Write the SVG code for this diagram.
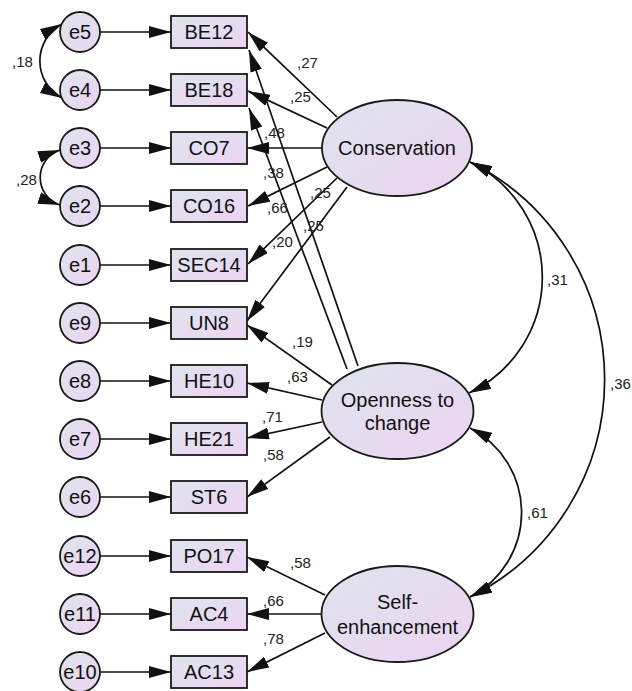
<svg xmlns="http://www.w3.org/2000/svg" width="632" height="691" viewBox="0 0 632 691">
  <style>
    .obs { stroke: #1a1a1a; stroke-width: 1.8; fill: url(#nodeFill); }
    .err { stroke: #1a1a1a; stroke-width: 1.8; fill: url(#nodeFill); }
    .lat { stroke: #1a1a1a; stroke-width: 1.8; fill: url(#nodeFill); }
    .lbl { font-family: "Liberation Sans", Arial, sans-serif; font-size: 20px; fill: #111; text-anchor: middle; }
    .coef { font-family: "Liberation Sans", Arial, sans-serif; font-size: 15px; fill: #222; }
    .path { stroke: #111; stroke-width: 1.7; fill: none; marker-end: url(#head); }
    .cov { stroke: #111; stroke-width: 1.7; fill: none; marker-start: url(#head); marker-end: url(#head); }
  </style>
  <defs>
    <linearGradient id="nodeFill" x1="0" y1="0" x2="1" y2="1">
      <stop offset="0" stop-color="#dfe4ee"/>
      <stop offset="1" stop-color="#ecd4f1"/>
    </linearGradient>
    <marker id="head" markerUnits="userSpaceOnUse" viewBox="0 0 22 12" markerWidth="22" markerHeight="12" refX="22" refY="6" orient="auto-start-reverse">
      <path d="M0,0 L22,6 L0,12 z" fill="#111"/>
    </marker>
  </defs>

  <!-- connectors -->
  <g id="connectors">
    <!-- error terms to indicators -->
    <line class="path" x1="100" y1="32" x2="171" y2="32"/>
    <line class="path" x1="100" y1="90" x2="171" y2="90"/>
    <line class="path" x1="100" y1="148" x2="171" y2="148"/>
    <line class="path" x1="100" y1="206" x2="171" y2="206"/>
    <line class="path" x1="100" y1="265" x2="171" y2="265"/>
    <line class="path" x1="100" y1="323" x2="171" y2="323"/>
    <line class="path" x1="100" y1="381" x2="171" y2="381"/>
    <line class="path" x1="100" y1="439" x2="171" y2="439"/>
    <line class="path" x1="100" y1="497" x2="171" y2="497"/>
    <line class="path" x1="100" y1="556" x2="171" y2="556"/>
    <line class="path" x1="100" y1="614" x2="171" y2="614"/>
    <line class="path" x1="100" y1="672" x2="171" y2="672"/>

    <!-- error covariances -->
    <path class="cov" d="M62,24 A42,42 0 0 0 62,98"/>
    <path class="cov" d="M60,150 A29,29 0 0 0 60,205"/>

    <!-- Conservation loadings -->
    <line class="path" x1="337" y1="117" x2="248" y2="32"/>
    <line class="path" x1="327" y1="128" x2="248" y2="91"/>
    <line class="path" x1="322" y1="148" x2="247" y2="148"/>
    <line class="path" x1="327" y1="167" x2="248" y2="206"/>
    <line class="path" x1="337" y1="178" x2="248" y2="264"/>
    <line class="path" x1="347" y1="187" x2="247" y2="321"/>

    <!-- Openness to change loadings -->
    <line class="path" x1="358" y1="366" x2="249" y2="50"/>
    <line class="path" x1="347" y1="369" x2="249" y2="108"/>
    <line class="path" x1="332" y1="385" x2="247" y2="325"/>
    <line class="path" x1="322" y1="400" x2="247" y2="383"/>
    <line class="path" x1="322" y1="422" x2="247" y2="438"/>
    <line class="path" x1="330" y1="437" x2="247" y2="497"/>

    <!-- Self-enhancement loadings -->
    <line class="path" x1="325" y1="595" x2="247" y2="557"/>
    <line class="path" x1="322" y1="614" x2="247" y2="614"/>
    <line class="path" x1="325" y1="633" x2="247" y2="672"/>

    <!-- factor covariances -->
    <path class="cov" d="M470,162 A128,128 0 0 1 469,393"/>
    <path class="cov" d="M470,162 A243,243 0 0 1 470,597"/>
    <path class="cov" d="M470,428 A95,95 0 0 1 470,597"/>
  </g>

  <!-- coefficients -->
  <g id="coefficients">
    <text class="coef" x="12" y="67">,18</text>
    <text class="coef" x="16" y="185">,28</text>
    <text class="coef" x="297" y="68">,27</text>
    <text class="coef" x="290" y="102">,25</text>
    <text class="coef" x="264" y="138">,48</text>
    <text class="coef" x="263" y="178">,38</text>
    <text class="coef" x="267" y="213">,66</text>
    <text class="coef" x="310" y="198">,25</text>
    <text class="coef" x="303" y="231">,25</text>
    <text class="coef" x="272" y="247">,20</text>
    <text class="coef" x="292" y="347">,19</text>
    <text class="coef" x="287" y="382">,63</text>
    <text class="coef" x="262" y="422">,71</text>
    <text class="coef" x="263" y="460">,58</text>
    <text class="coef" x="290" y="568">,58</text>
    <text class="coef" x="263" y="606">,66</text>
    <text class="coef" x="263" y="644">,78</text>
    <text class="coef" x="547" y="285">,31</text>
    <text class="coef" x="610" y="389">,36</text>
    <text class="coef" x="527" y="518">,61</text>
  </g>

  <!-- error terms -->
  <g id="e5"><circle class="err" cx="80" cy="32" r="20"/><text class="lbl" x="80" y="39">e5</text></g>
  <g id="e4"><circle class="err" cx="80" cy="90" r="20"/><text class="lbl" x="80" y="97">e4</text></g>
  <g id="e3"><circle class="err" cx="80" cy="148" r="20"/><text class="lbl" x="80" y="155">e3</text></g>
  <g id="e2"><circle class="err" cx="80" cy="206" r="20"/><text class="lbl" x="80" y="213">e2</text></g>
  <g id="e1"><circle class="err" cx="80" cy="265" r="20"/><text class="lbl" x="80" y="272">e1</text></g>
  <g id="e9"><circle class="err" cx="80" cy="323" r="20"/><text class="lbl" x="80" y="330">e9</text></g>
  <g id="e8"><circle class="err" cx="80" cy="381" r="20"/><text class="lbl" x="80" y="388">e8</text></g>
  <g id="e7"><circle class="err" cx="80" cy="439" r="20"/><text class="lbl" x="80" y="446">e7</text></g>
  <g id="e6"><circle class="err" cx="80" cy="497" r="20"/><text class="lbl" x="80" y="504">e6</text></g>
  <g id="e12"><circle class="err" cx="80" cy="556" r="20"/><text class="lbl" x="80" y="563">e12</text></g>
  <g id="e11"><circle class="err" cx="80" cy="614" r="20"/><text class="lbl" x="80" y="621">e11</text></g>
  <g id="e10"><circle class="err" cx="80" cy="672" r="20"/><text class="lbl" x="80" y="679">e10</text></g>

  <!-- observed indicators -->
  <g id="BE12"><rect class="obs" x="171" y="16" width="76" height="32"/><text class="lbl" x="209" y="39">BE12</text></g>
  <g id="BE18"><rect class="obs" x="171" y="74" width="76" height="32"/><text class="lbl" x="209" y="97">BE18</text></g>
  <g id="CO7"><rect class="obs" x="171" y="132" width="76" height="32"/><text class="lbl" x="209" y="155">CO7</text></g>
  <g id="CO16"><rect class="obs" x="171" y="190" width="76" height="32"/><text class="lbl" x="209" y="213">CO16</text></g>
  <g id="SEC14"><rect class="obs" x="171" y="249" width="76" height="32"/><text class="lbl" x="209" y="272">SEC14</text></g>
  <g id="UN8"><rect class="obs" x="171" y="307" width="76" height="32"/><text class="lbl" x="209" y="330">UN8</text></g>
  <g id="HE10"><rect class="obs" x="171" y="365" width="76" height="32"/><text class="lbl" x="209" y="388">HE10</text></g>
  <g id="HE21"><rect class="obs" x="171" y="423" width="76" height="32"/><text class="lbl" x="209" y="446">HE21</text></g>
  <g id="ST6"><rect class="obs" x="171" y="481" width="76" height="32"/><text class="lbl" x="209" y="504">ST6</text></g>
  <g id="PO17"><rect class="obs" x="171" y="540" width="76" height="32"/><text class="lbl" x="209" y="563">PO17</text></g>
  <g id="AC4"><rect class="obs" x="171" y="598" width="76" height="32"/><text class="lbl" x="209" y="621">AC4</text></g>
  <g id="AC13"><rect class="obs" x="171" y="656" width="76" height="32"/><text class="lbl" x="209" y="679">AC13</text></g>

  <!-- latent factors -->
  <g id="Conservation">
    <ellipse class="lat" cx="397" cy="148" rx="75" ry="48"/>
    <text class="lbl" x="397" y="155">Conservation</text>
  </g>
  <g id="Openness">
    <ellipse class="lat" cx="397.5" cy="411" rx="76" ry="48"/>
    <text class="lbl" x="397.5" y="407">Openness to</text>
    <text class="lbl" x="397.5" y="430">change</text>
  </g>
  <g id="SelfEnhancement">
    <ellipse class="lat" cx="397.5" cy="614" rx="76" ry="48"/>
    <text class="lbl" x="397.5" y="609">Self-</text>
    <text class="lbl" x="397.5" y="634">enhancement</text>
  </g>
</svg>
